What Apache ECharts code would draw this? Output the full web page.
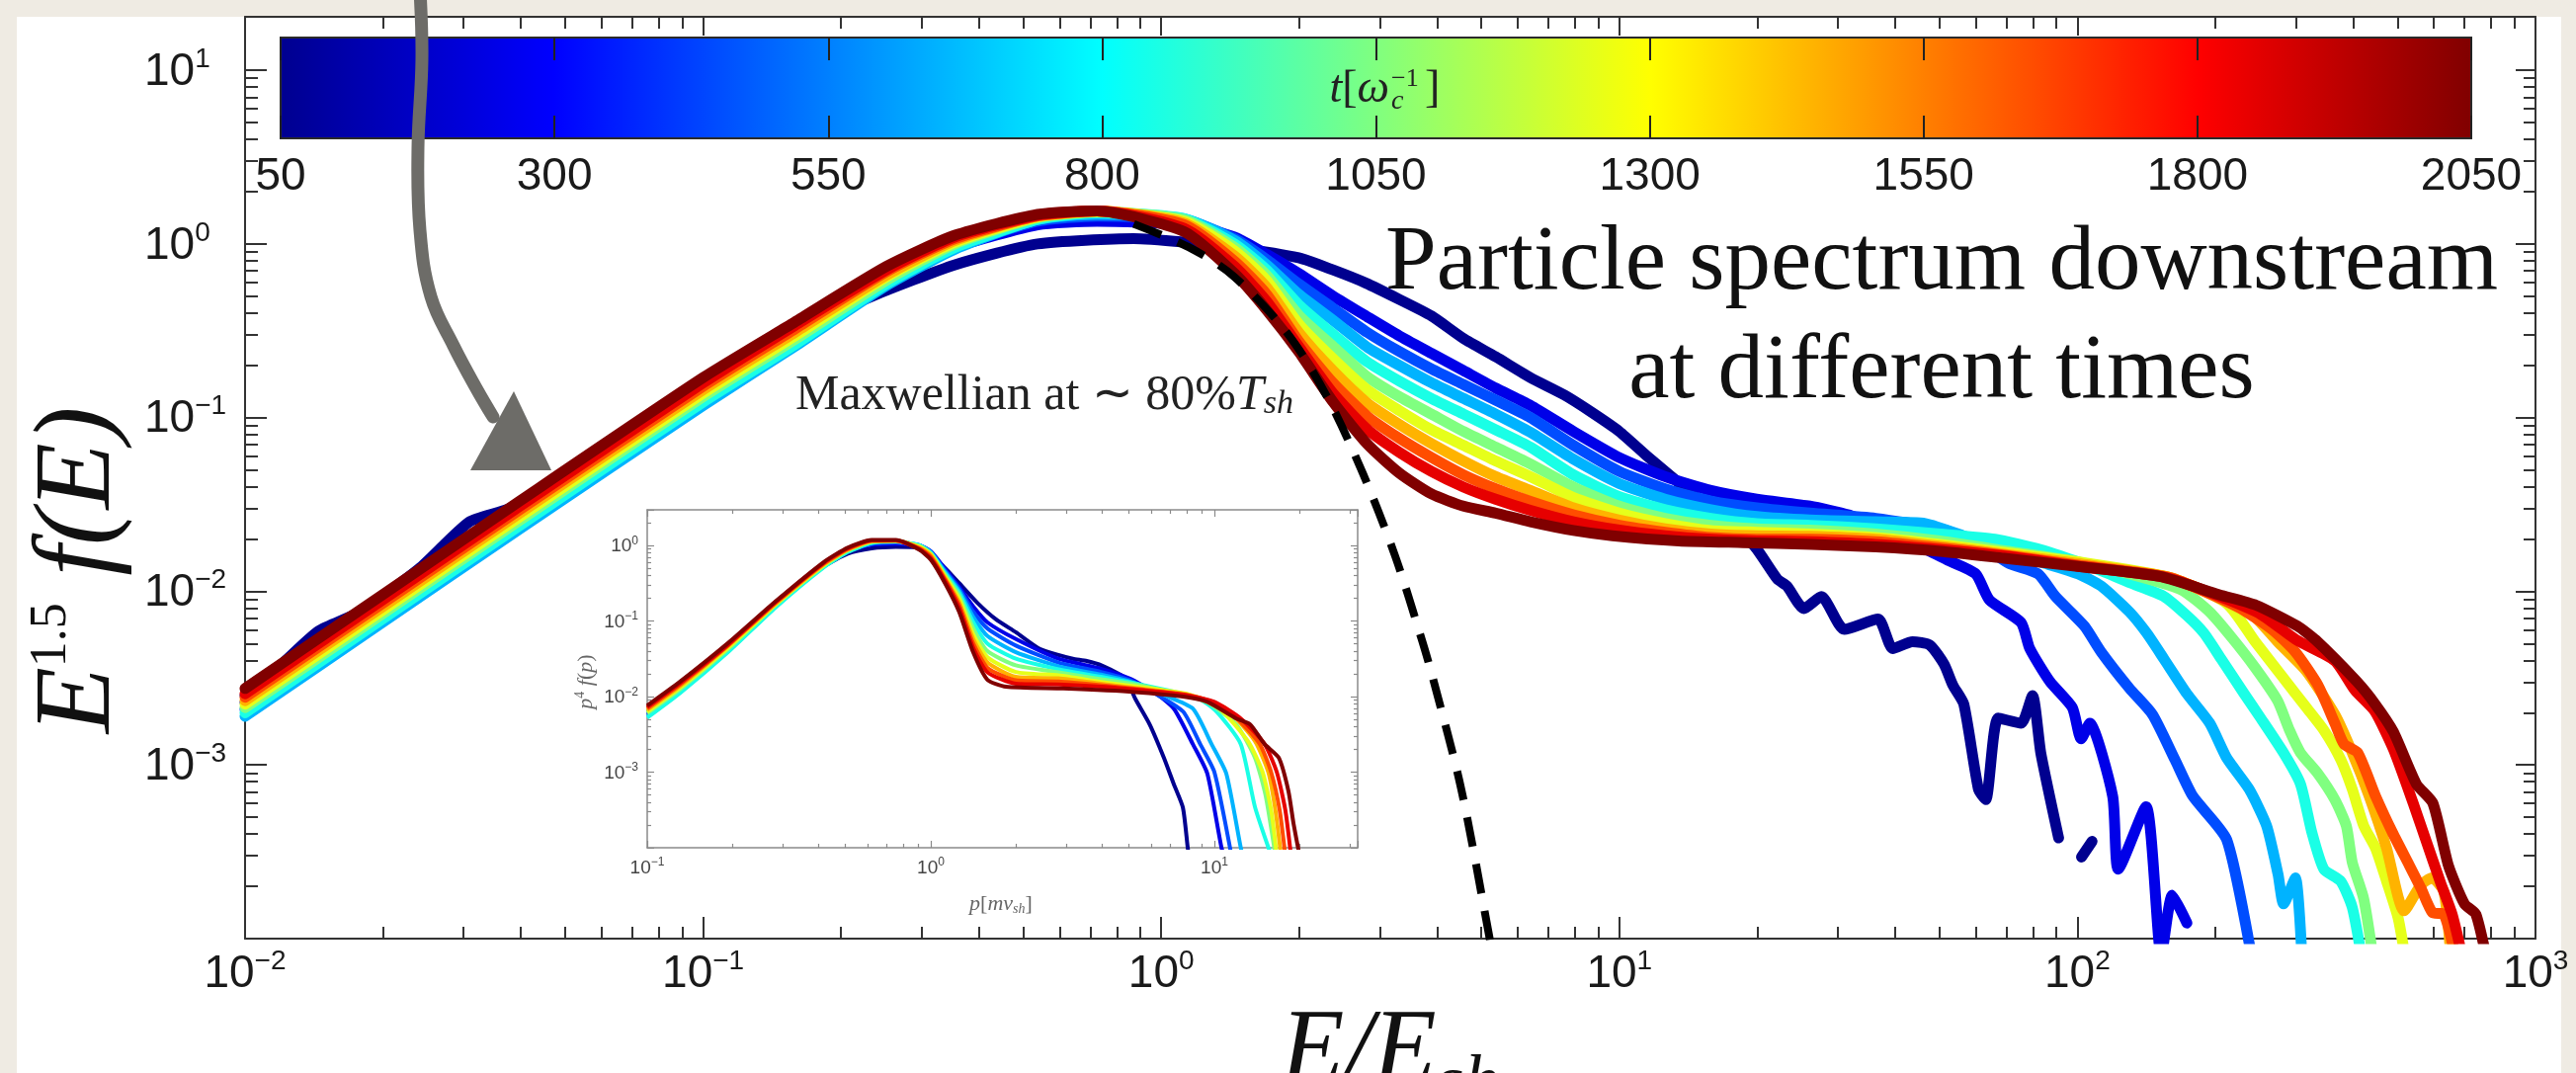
<!DOCTYPE html>
<html>
<head>
<meta charset="utf-8">
<script src="https://cdn.jsdelivr.net/npm/echarts@6/dist/echarts.min.js"></script>
<style>
html,body{margin:0;padding:0;background:#efebe3;width:2607px;height:1086px;overflow:hidden;}
#card{position:absolute;left:17px;top:17px;width:2575px;height:1069px;background:#ffffff;}
#chart{position:absolute;left:0;top:0;width:2607px;height:1086px;}
</style>
</head>
<body>
<div id="card"></div>
<div id="chart"></div>
<script>
// ---------------- DATA ----------------
// times of the snapshots, t [1/omega_c]
const times = [50, 250, 450, 650, 850, 1050, 1250, 1450, 1650, 1850, 2050];
// colour-bar tick labels
const cbarTicks = [50, 300, 550, 800, 1050, 1300, 1550, 1800, 2050];
// decades used for log ticks
const xDecades = [-2, -1, 0, 1, 2];
const yDecades = [-4, -3, -2, -1, 0];
const insetXDecades = [-1, 0, 1];
const insetYDecades = [-4, -3, -2, -1, 0];

// Main spectra: pairs [log10(E/Esh), log10(E^1.5 f(E))]
const spec_t50 = [[-2.00,-2.60],[-1.92,-2.42],[-1.84,-2.23],[-1.75,-2.12],[-1.62,-1.87],[-1.51,-1.60],[-1.42,-1.52],[-1.20,-1.13],[-1.00,-0.80],[-0.80,-0.50],[-0.63,-0.30],[-0.45,-0.12],[-0.27,0.00],[-0.06,0.03],[0.05,0.01],[0.16,-0.02],[0.30,-0.08],[0.375,-0.15],[0.446,-0.225],[0.52,-0.32],[0.59,-0.415],[0.66,-0.545],[0.73,-0.65],[0.806,-0.77],[0.88,-0.87],[0.94,-0.97],[1.00,-1.08],[1.06,-1.22],[1.15,-1.42],[1.24,-1.62],[1.295,-1.74],[1.345,-1.93],[1.366,-1.97],[1.403,-2.10],[1.441,-2.03],[1.491,-2.22],[1.565,-2.16],[1.597,-2.33],[1.64,-2.29],[1.678,-2.31],[1.709,-2.42],[1.728,-2.54],[1.752,-2.65],[1.784,-3.14],[1.80,-3.20],[1.827,-2.73],[1.877,-2.76],[1.902,-2.60],[1.92,-2.93],[1.959,-3.42],null,[2.009,-3.53],[2.032,-3.44]];
const spec_t250 = [[-2.00,-2.64],[-1.70,-2.10],[-1.40,-1.56],[-1.00,-0.85],[-0.80,-0.52],[-0.60,-0.20],[-0.45,-0.02],[-0.27,0.11],[-0.14,0.13],[0.05,0.11],[0.16,0.04],[0.23,-0.06],[0.30,-0.17],[0.375,-0.30],[0.45,-0.42],[0.52,-0.53],[0.59,-0.63],[0.66,-0.73],[0.73,-0.83],[0.806,-0.93],[0.90,-1.08],[1.00,-1.23],[1.10,-1.34],[1.20,-1.42],[1.30,-1.47],[1.416,-1.51],[1.50,-1.56],[1.565,-1.63],[1.64,-1.72],[1.716,-1.82],[1.778,-1.90],[1.808,-2.05],[1.877,-2.18],[1.896,-2.33],[1.94,-2.52],[1.989,-2.67],[2.008,-2.85],[2.027,-2.76],[2.077,-3.18],[2.089,-3.60],[2.15,-3.24],[2.183,-4.10],[2.207,-3.75],[2.239,-3.91]];
const spec_t450 = [[-2.00,-2.68],[-1.70,-2.14],[-1.40,-1.60],[-1.00,-0.89],[-0.80,-0.56],[-0.60,-0.22],[-0.45,-0.02],[-0.27,0.13],[-0.14,0.16],[0.05,0.14],[0.16,0.03],[0.23,-0.09],[0.30,-0.23],[0.375,-0.37],[0.45,-0.51],[0.52,-0.62],[0.59,-0.72],[0.66,-0.81],[0.73,-0.90],[0.806,-1.00],[0.90,-1.16],[1.00,-1.31],[1.10,-1.41],[1.20,-1.48],[1.30,-1.52],[1.416,-1.55],[1.56,-1.58],[1.70,-1.64],[1.78,-1.72],[1.851,-1.84],[1.914,-1.90],[1.952,-2.03],[2.015,-2.20],[2.052,-2.35],[2.114,-2.56],[2.164,-2.71],[2.213,-2.97],[2.252,-3.18],[2.326,-3.43],[2.38,-4.10]];
const spec_t650 = [[-2.00,-2.72],[-1.70,-2.18],[-1.40,-1.64],[-1.00,-0.93],[-0.80,-0.59],[-0.60,-0.24],[-0.45,-0.03],[-0.27,0.14],[-0.14,0.17],[0.05,0.145],[0.16,0.02],[0.23,-0.12],[0.30,-0.29],[0.375,-0.44],[0.45,-0.595],[0.52,-0.70],[0.59,-0.80],[0.66,-0.89],[0.73,-0.98],[0.806,-1.085],[0.90,-1.24],[1.00,-1.38],[1.10,-1.47],[1.20,-1.53],[1.30,-1.57],[1.416,-1.59],[1.56,-1.60],[1.668,-1.61],[1.75,-1.68],[1.85,-1.78],[1.93,-1.84],[2.002,-1.90],[2.052,-1.97],[2.114,-2.12],[2.151,-2.24],[2.189,-2.39],[2.239,-2.59],[2.289,-2.76],[2.326,-2.96],[2.375,-3.14],[2.413,-3.35],[2.438,-3.63],[2.45,-3.80],[2.476,-3.65],[2.49,-4.10]];
const spec_t850 = [[-2.00,-2.70],[-1.70,-2.16],[-1.40,-1.62],[-1.00,-0.91],[-0.80,-0.58],[-0.60,-0.23],[-0.45,-0.02],[-0.27,0.14],[-0.14,0.18],[0.05,0.145],[0.16,0.00],[0.23,-0.15],[0.30,-0.35],[0.375,-0.52],[0.45,-0.68],[0.52,-0.79],[0.59,-0.89],[0.66,-0.98],[0.73,-1.07],[0.806,-1.17],[0.90,-1.33],[1.00,-1.455],[1.10,-1.53],[1.20,-1.58],[1.30,-1.61],[1.416,-1.62],[1.56,-1.64],[1.70,-1.67],[1.82,-1.70],[1.92,-1.76],[2.00,-1.83],[2.06,-1.89],[2.114,-1.95],[2.189,-2.03],[2.239,-2.14],[2.276,-2.24],[2.314,-2.39],[2.364,-2.59],[2.40,-2.73],[2.45,-2.93],[2.487,-3.11],[2.512,-3.39],[2.538,-3.60],[2.575,-3.67],[2.60,-3.82],[2.62,-4.10]];
const spec_t1050 = [[-2.00,-2.67],[-1.70,-2.13],[-1.40,-1.59],[-1.00,-0.88],[-0.80,-0.55],[-0.60,-0.21],[-0.45,0.00],[-0.27,0.15],[-0.14,0.185],[0.05,0.14],[0.16,-0.02],[0.23,-0.18],[0.30,-0.41],[0.375,-0.59],[0.45,-0.765],[0.52,-0.88],[0.59,-0.98],[0.66,-1.08],[0.73,-1.17],[0.806,-1.267],[0.90,-1.40],[1.00,-1.51],[1.10,-1.58],[1.20,-1.62],[1.30,-1.64],[1.416,-1.648],[1.56,-1.67],[1.70,-1.71],[1.85,-1.77],[2.00,-1.83],[2.10,-1.89],[2.226,-1.99],[2.289,-2.12],[2.338,-2.27],[2.388,-2.44],[2.437,-2.63],[2.463,-2.80],[2.487,-2.93],[2.525,-3.05],[2.562,-3.20],[2.587,-3.35],[2.60,-3.56],[2.625,-3.77],[2.645,-4.10]];
const spec_t1250 = [[-2.00,-2.65],[-1.70,-2.11],[-1.40,-1.57],[-1.00,-0.86],[-0.80,-0.53],[-0.60,-0.19],[-0.45,0.01],[-0.27,0.155],[-0.14,0.185],[0.05,0.13],[0.16,-0.04],[0.23,-0.21],[0.30,-0.46],[0.375,-0.66],[0.45,-0.84],[0.52,-0.96],[0.59,-1.07],[0.66,-1.16],[0.73,-1.25],[0.806,-1.34],[0.90,-1.46],[1.00,-1.55],[1.10,-1.61],[1.20,-1.65],[1.30,-1.66],[1.416,-1.67],[1.56,-1.69],[1.70,-1.73],[1.85,-1.78],[2.00,-1.83],[2.20,-1.92],[2.326,-2.07],[2.388,-2.29],[2.45,-2.50],[2.50,-2.67],[2.538,-2.80],[2.575,-2.97],[2.60,-3.14],[2.625,-3.35],[2.651,-3.48],[2.675,-3.67],[2.70,-3.88],[2.715,-4.10]];
const spec_t1450 = [[-2.00,-2.63],[-1.70,-2.09],[-1.40,-1.55],[-1.00,-0.84],[-0.80,-0.51],[-0.60,-0.18],[-0.45,0.02],[-0.27,0.16],[-0.14,0.19],[0.05,0.12],[0.16,-0.07],[0.23,-0.25],[0.30,-0.51],[0.375,-0.73],[0.45,-0.917],[0.52,-1.04],[0.59,-1.15],[0.66,-1.25],[0.73,-1.34],[0.806,-1.42],[0.90,-1.52],[1.00,-1.59],[1.10,-1.64],[1.20,-1.67],[1.30,-1.68],[1.416,-1.683],[1.56,-1.70],[1.70,-1.74],[1.85,-1.79],[2.00,-1.84],[2.20,-1.92],[2.375,-2.12],[2.437,-2.29],[2.50,-2.46],[2.562,-2.71],[2.60,-2.93],[2.637,-3.18],[2.675,-3.48],[2.713,-3.84],[2.75,-3.69],[2.774,-3.65],[2.80,-3.73],[2.815,-4.10]];
const spec_t1650 = [[-2.00,-2.61],[-1.70,-2.07],[-1.40,-1.53],[-1.00,-0.82],[-0.80,-0.49],[-0.60,-0.16],[-0.45,0.03],[-0.27,0.16],[-0.14,0.19],[0.05,0.11],[0.16,-0.10],[0.23,-0.29],[0.30,-0.56],[0.375,-0.80],[0.45,-0.993],[0.52,-1.12],[0.59,-1.23],[0.66,-1.33],[0.73,-1.41],[0.806,-1.483],[0.90,-1.56],[1.00,-1.62],[1.10,-1.66],[1.20,-1.69],[1.30,-1.70],[1.416,-1.70],[1.56,-1.715],[1.70,-1.75],[1.85,-1.795],[2.00,-1.85],[2.20,-1.92],[2.35,-2.09],[2.425,-2.22],[2.476,-2.35],[2.525,-2.54],[2.562,-2.76],[2.582,-2.88],[2.612,-2.93],[2.651,-3.18],[2.688,-3.39],[2.725,-3.58],[2.75,-3.71],[2.775,-3.85],[2.80,-3.86],[2.825,-4.10]];
const spec_t1850 = [[-2.00,-2.59],[-1.70,-2.05],[-1.40,-1.51],[-1.00,-0.80],[-0.80,-0.47],[-0.60,-0.15],[-0.45,0.04],[-0.27,0.165],[-0.14,0.19],[0.05,0.09],[0.16,-0.13],[0.23,-0.33],[0.30,-0.59],[0.375,-0.86],[0.45,-1.068],[0.52,-1.20],[0.59,-1.31],[0.66,-1.40],[0.73,-1.47],[0.806,-1.534],[0.90,-1.60],[1.00,-1.648],[1.10,-1.68],[1.20,-1.70],[1.30,-1.71],[1.416,-1.715],[1.56,-1.73],[1.70,-1.76],[1.85,-1.80],[2.00,-1.855],[2.20,-1.925],[2.392,-2.12],[2.478,-2.28],[2.562,-2.40],[2.606,-2.57],[2.649,-2.69],[2.69,-2.91],[2.733,-3.22],[2.759,-3.42],[2.793,-3.68],[2.818,-3.86],[2.84,-4.10]];
const spec_t2050 = [[-2.00,-2.56],[-1.70,-2.02],[-1.40,-1.48],[-1.00,-0.77],[-0.80,-0.45],[-0.60,-0.13],[-0.45,0.05],[-0.27,0.17],[-0.14,0.19],[0.05,0.07],[0.16,-0.17],[0.23,-0.38],[0.30,-0.62],[0.375,-0.91],[0.45,-1.153],[0.52,-1.32],[0.59,-1.44],[0.66,-1.51],[0.73,-1.55],[0.806,-1.60],[0.90,-1.65],[0.985,-1.68],[1.13,-1.71],[1.27,-1.72],[1.42,-1.73],[1.56,-1.745],[1.70,-1.77],[1.84,-1.81],[2.01,-1.86],[2.18,-1.915],[2.31,-2.02],[2.39,-2.08],[2.48,-2.20],[2.52,-2.28],[2.61,-2.52],[2.65,-2.65],[2.69,-2.81],[2.74,-3.11],[2.776,-3.22],[2.81,-3.58],[2.845,-3.80],[2.87,-3.86],[2.90,-4.20]];
// Maxwellian at ~80% T_sh (dashed)
const maxwellian = [[-0.06,0.115],[0.066,-0.027],[0.159,-0.188],[0.274,-0.51],[0.36,-0.87],[0.44,-1.32],[0.511,-1.80],[0.569,-2.28],[0.593,-2.50],[0.655,-3.14],[0.717,-4.0],[0.73,-4.2]];

// Inset spectra: pairs [log10(p/mv_sh), log10(p^4 f(p))]
const ins_t50 = [[-1.0,-2.15],[-0.883,-1.84],[-0.714,-1.33],[-0.547,-0.78],[-0.377,-0.28],[-0.293,-0.11],[-0.209,-0.04],[-0.123,-0.02],[-0.04,-0.03],[0.045,-0.28],[0.10,-0.50],[0.164,-0.76],[0.23,-0.98],[0.30,-1.15],[0.384,-1.37],[0.45,-1.45],[0.501,-1.50],[0.55,-1.53],[0.603,-1.59],[0.687,-1.76],[0.721,-2.03],[0.772,-2.37],[0.822,-2.81],[0.857,-3.16],[0.889,-3.47],[0.906,-4.0],[0.91,-4.1]];
const ins_t250 = [[-1.0,-2.20],[-0.883,-1.88],[-0.714,-1.35],[-0.547,-0.78],[-0.377,-0.26],[-0.293,-0.07],[-0.209,0.01],[-0.123,0.02],[-0.04,0.0],[0.0,-0.08],[0.05,-0.31],[0.10,-0.55],[0.15,-0.81],[0.20,-1.02],[0.30,-1.24],[0.45,-1.50],[0.60,-1.632],[0.70,-1.76],[0.788,-1.94],[0.857,-2.16],[0.924,-2.63],[0.975,-3.02],[1.025,-4.0],[1.035,-4.1]];
const ins_t450 = [[-1.0,-2.24],[-0.883,-1.92],[-0.714,-1.38],[-0.547,-0.80],[-0.377,-0.27],[-0.293,-0.07],[-0.209,0.02],[-0.123,0.04],[-0.04,0.0],[0.0,-0.09],[0.05,-0.33],[0.10,-0.57],[0.15,-0.88],[0.20,-1.10],[0.30,-1.326],[0.45,-1.55],[0.60,-1.675],[0.70,-1.78],[0.80,-1.98],[0.89,-2.2],[0.95,-2.63],[1.0,-3.0],[1.06,-4.1]];
const ins_t650 = [[-1.0,-2.27],[-0.883,-1.94],[-0.714,-1.40],[-0.547,-0.81],[-0.377,-0.28],[-0.293,-0.08],[-0.209,0.03],[-0.123,0.05],[-0.04,0.0],[0.0,-0.09],[0.05,-0.35],[0.10,-0.60],[0.15,-0.95],[0.20,-1.20],[0.30,-1.414],[0.45,-1.60],[0.60,-1.71],[0.70,-1.80],[0.822,-1.98],[0.924,-2.16],[0.99,-2.63],[1.042,-3.02],[1.093,-4.0],[1.10,-4.1]];
const ins_t850 = [[-1.0,-2.28],[-0.883,-1.95],[-0.714,-1.41],[-0.547,-0.82],[-0.377,-0.29],[-0.293,-0.09],[-0.209,0.03],[-0.123,0.05],[-0.04,0.0],[0.0,-0.10],[0.05,-0.37],[0.10,-0.63],[0.15,-1.02],[0.20,-1.30],[0.30,-1.50],[0.45,-1.64],[0.60,-1.74],[0.75,-1.85],[0.941,-2.02],[1.008,-2.2],[1.093,-2.63],[1.143,-3.46],[1.20,-4.1]];
const ins_t1050 = [[-1.0,-2.22],[-0.883,-1.90],[-0.714,-1.37],[-0.547,-0.79],[-0.377,-0.27],[-0.293,-0.07],[-0.209,0.045],[-0.123,0.055],[-0.04,-0.01],[0.0,-0.11],[0.05,-0.39],[0.10,-0.67],[0.15,-1.10],[0.20,-1.40],[0.30,-1.588],[0.45,-1.68],[0.60,-1.77],[0.75,-1.86],[0.94,-2.03],[0.975,-2.07],[1.077,-2.37],[1.143,-2.81],[1.18,-3.3],[1.215,-4.1]];
const ins_t1250 = [[-1.0,-2.20],[-0.883,-1.88],[-0.714,-1.35],[-0.547,-0.78],[-0.377,-0.26],[-0.293,-0.06],[-0.209,0.05],[-0.123,0.06],[-0.04,-0.02],[0.0,-0.12],[0.05,-0.41],[0.10,-0.71],[0.15,-1.18],[0.20,-1.48],[0.30,-1.675],[0.45,-1.72],[0.60,-1.806],[0.75,-1.88],[0.90,-1.96],[0.96,-2.05],[1.02,-2.16],[1.12,-2.60],[1.17,-3.0],[1.20,-3.5],[1.22,-4.1]];
const ins_t1450 = [[-1.0,-2.18],[-0.883,-1.86],[-0.714,-1.33],[-0.547,-0.77],[-0.377,-0.25],[-0.293,-0.06],[-0.209,0.055],[-0.123,0.06],[-0.04,-0.03],[0.0,-0.13],[0.05,-0.43],[0.10,-0.75],[0.15,-1.24],[0.20,-1.55],[0.30,-1.74],[0.45,-1.76],[0.60,-1.83],[0.75,-1.90],[0.90,-1.97],[0.975,-2.05],[1.042,-2.16],[1.143,-2.59],[1.19,-3.0],[1.215,-3.5],[1.235,-4.1]];
const ins_t1650 = [[-1.0,-2.16],[-0.883,-1.84],[-0.714,-1.32],[-0.547,-0.76],[-0.377,-0.24],[-0.293,-0.05],[-0.209,0.06],[-0.123,0.065],[-0.04,-0.04],[0.0,-0.15],[0.05,-0.45],[0.10,-0.79],[0.15,-1.30],[0.20,-1.62],[0.30,-1.785],[0.45,-1.80],[0.60,-1.85],[0.75,-1.91],[0.90,-1.98],[1.0,-2.08],[1.08,-2.29],[1.16,-2.63],[1.20,-3.0],[1.23,-3.5],[1.25,-4.1]];
const ins_t1850 = [[-1.0,-2.14],[-0.883,-1.82],[-0.714,-1.31],[-0.547,-0.75],[-0.377,-0.23],[-0.293,-0.04],[-0.209,0.065],[-0.123,0.065],[-0.04,-0.05],[0.0,-0.17],[0.05,-0.47],[0.10,-0.83],[0.15,-1.36],[0.20,-1.68],[0.30,-1.83],[0.45,-1.84],[0.60,-1.87],[0.75,-1.92],[0.90,-1.98],[1.0,-2.07],[1.093,-2.29],[1.177,-2.63],[1.22,-3.0],[1.25,-3.5],[1.27,-4.1]];
const ins_t2050 = [[-1.0,-2.12],[-0.883,-1.80],[-0.714,-1.29],[-0.547,-0.74],[-0.377,-0.22],[-0.293,-0.03],[-0.209,0.07],[-0.123,0.07],[-0.04,-0.06],[0.0,-0.19],[0.05,-0.50],[0.10,-0.88],[0.15,-1.42],[0.20,-1.78],[0.265,-1.87],[0.467,-1.894],[0.72,-1.94],[0.89,-2.0],[0.975,-2.07],[1.077,-2.29],[1.126,-2.37],[1.177,-2.63],[1.227,-2.81],[1.261,-3.25],[1.279,-3.68],[1.30,-4.1]];

const mainSpectra = [spec_t50, spec_t250, spec_t450, spec_t650, spec_t850, spec_t1050, spec_t1250, spec_t1450, spec_t1650, spec_t1850, spec_t2050];
const insetSpectra = [ins_t50, ins_t250, ins_t450, ins_t650, ins_t850, ins_t1050, ins_t1250, ins_t1450, ins_t1650, ins_t1850, ins_t2050];

// ---------------- STYLE ----------------
const jetColors = ['#00008f', '#0000e8', '#004dff', '#00b3ff', '#1affe6', '#80ff80', '#e6ff1a', '#ffb300', '#ff4d00', '#e60000', '#800000'];
const jetStops = [
  { offset: 0, color: '#00008f' }, { offset: 0.125, color: '#0000ff' },
  { offset: 0.375, color: '#00ffff' }, { offset: 0.625, color: '#ffff00' },
  { offset: 0.875, color: '#ff0000' }, { offset: 1, color: '#800000' }
];
const AX = '#333333';
const INS = '#8a8a8a';

function toXY(pts) {
  return pts.map(p => p === null ? ['-', '-'] : [Math.pow(10, p[0]), Math.pow(10, p[1])]);
}
function minorVals(decs) {
  const out = [];
  decs.forEach(d => [2, 3, 4, 5, 6, 7, 8, 9].forEach(m => out.push(+(m * Math.pow(10, d)).toPrecision(6))));
  return out;
}
function supLabel(v, minExp, maxExp) {
  const l = Math.log10(v); const e = Math.round(l);
  if (Math.abs(l - e) > 1e-6 || e < minExp || e > maxExp) return '';
  return '{b|10}{s|' + (e < 0 ? '\u2212' + (-e) : e) + '}';
}
const mainRich = {
  b: { fontFamily: 'Liberation Sans', fontSize: 46, lineHeight: 50, color: '#1a1a1a', verticalAlign: 'bottom', padding: [22, 0, 0, 0] },
  s: { fontFamily: 'Liberation Sans', fontSize: 28, lineHeight: 30, color: '#1a1a1a', verticalAlign: 'top' }
};
const insRich = {
  b: { fontFamily: 'Liberation Sans', fontSize: 19, lineHeight: 21, color: '#444', verticalAlign: 'bottom', padding: [9, 0, 0, 0] },
  s: { fontFamily: 'Liberation Sans', fontSize: 12, lineHeight: 13, color: '#444', verticalAlign: 'top' }
};

const X_MIN = 0.01, X_MAX = 1000, Y_MIN = 1e-4, Y_MAX = 20.3;
const IX_MIN = 0.1, IX_MAX = 32, IY_MIN = 1e-4, IY_MAX = 2.95;

function lineAx(color, w) { return { show: true, onZero: false, lineStyle: { color: color, width: w } }; }
function tickAx(len, color, w, custom) {
  const t = { show: true, inside: true, length: len, lineStyle: { color: color, width: w } };
  if (custom) t.customValues = custom;
  return t;
}
const noLabel = { show: false };
const noSplit = { show: false };

const xAxes = [
  { gridIndex: 0, type: 'log', min: X_MIN, max: X_MAX, position: 'bottom', axisLine: lineAx(AX, 2), axisTick: tickAx(22, AX, 2),
    axisLabel: { show: true, margin: 9, formatter: v => supLabel(v, -2, 3), rich: mainRich }, splitLine: noSplit,
    name: '{i|E/E}{sub|sh}', nameLocation: 'middle', nameGap: 27,
    nameTextStyle: { rich: {
      i: { fontFamily: 'Liberation Serif', fontStyle: 'italic', fontSize: 105, lineHeight: 120, color: '#111', verticalAlign: 'top', padding: [0, 0, 15, 0] },
      sub: { fontFamily: 'Liberation Serif', fontStyle: 'italic', fontSize: 72, lineHeight: 72, color: '#111', verticalAlign: 'bottom' } } } },
  { gridIndex: 0, type: 'log', min: X_MIN, max: X_MAX, position: 'bottom', axisLine: { show: false }, axisTick: tickAx(12, AX, 2, minorVals(xDecades)), axisLabel: noLabel, splitLine: noSplit },
  { gridIndex: 0, type: 'log', min: X_MIN, max: X_MAX, position: 'top', axisLine: lineAx(AX, 2), axisTick: tickAx(19, AX, 2), axisLabel: noLabel, splitLine: noSplit },
  { gridIndex: 0, type: 'log', min: X_MIN, max: X_MAX, position: 'top', axisLine: { show: false }, axisTick: tickAx(12, AX, 2, minorVals(xDecades)), axisLabel: noLabel, splitLine: noSplit },
  { gridIndex: 1, type: 'value', min: cbarTicks[0], max: cbarTicks[cbarTicks.length - 1], interval: cbarTicks[1] - cbarTicks[0], position: 'bottom', z: 5,
    axisLine: { show: false }, axisTick: tickAx(23, '#222', 2),
    axisLabel: { show: true, margin: 16, fontFamily: 'Liberation Sans', fontSize: 46, lineHeight: 46, color: '#1a1a1a', formatter: v => String(v) }, splitLine: noSplit },
  { gridIndex: 1, type: 'value', min: cbarTicks[0], max: cbarTicks[cbarTicks.length - 1], interval: cbarTicks[1] - cbarTicks[0], position: 'top', z: 5,
    axisLine: { show: false }, axisTick: tickAx(23, '#222', 2), axisLabel: noLabel, splitLine: noSplit },
  { gridIndex: 2, type: 'log', min: IX_MIN, max: IX_MAX, position: 'bottom', axisLine: lineAx(INS, 1.5), axisTick: tickAx(7, INS, 1.2),
    axisLabel: { show: true, margin: 9, formatter: v => supLabel(v, -1, 1), rich: insRich }, splitLine: noSplit },
  { gridIndex: 2, type: 'log', min: IX_MIN, max: IX_MAX, position: 'bottom', axisLine: { show: false }, axisTick: tickAx(4, INS, 1.2, minorVals(insetXDecades)), axisLabel: noLabel, splitLine: noSplit },
  { gridIndex: 2, type: 'log', min: IX_MIN, max: IX_MAX, position: 'top', axisLine: lineAx(INS, 1.5), axisTick: tickAx(7, INS, 1.2), axisLabel: noLabel, splitLine: noSplit },
  { gridIndex: 2, type: 'log', min: IX_MIN, max: IX_MAX, position: 'top', axisLine: { show: false }, axisTick: tickAx(4, INS, 1.2, minorVals(insetXDecades)), axisLabel: noLabel, splitLine: noSplit }
];
const yAxes = [
  { gridIndex: 0, type: 'log', min: Y_MIN, max: Y_MAX, position: 'left', axisLine: lineAx(AX, 2), axisTick: tickAx(22, AX, 2),
    axisLabel: { show: true, margin: 102, align: 'left', formatter: v => supLabel(v, -3, 1), rich: mainRich }, splitLine: noSplit },
  { gridIndex: 0, type: 'log', min: Y_MIN, max: Y_MAX, position: 'left', axisLine: { show: false }, axisTick: tickAx(13, AX, 2, minorVals(yDecades)), axisLabel: noLabel, splitLine: noSplit },
  { gridIndex: 0, type: 'log', min: Y_MIN, max: Y_MAX, position: 'right', axisLine: lineAx(AX, 2), axisTick: tickAx(20, AX, 2), axisLabel: noLabel, splitLine: noSplit },
  { gridIndex: 0, type: 'log', min: Y_MIN, max: Y_MAX, position: 'right', axisLine: { show: false }, axisTick: tickAx(12, AX, 2, minorVals(yDecades)), axisLabel: noLabel, splitLine: noSplit },
  { gridIndex: 1, type: 'value', min: 0, max: 1, show: false },
  { gridIndex: 2, type: 'log', min: IY_MIN, max: IY_MAX, position: 'left', axisLine: lineAx(INS, 1.5), axisTick: tickAx(7, INS, 1.2),
    axisLabel: { show: true, margin: 9, formatter: v => supLabel(v, -3, 0), rich: insRich }, splitLine: noSplit },
  { gridIndex: 2, type: 'log', min: IY_MIN, max: IY_MAX, position: 'left', axisLine: { show: false }, axisTick: tickAx(4, INS, 1.2, minorVals(insetYDecades)), axisLabel: noLabel, splitLine: noSplit },
  { gridIndex: 2, type: 'log', min: IY_MIN, max: IY_MAX, position: 'right', axisLine: lineAx(INS, 1.5), axisTick: tickAx(7, INS, 1.2), axisLabel: noLabel, splitLine: noSplit },
  { gridIndex: 2, type: 'log', min: IY_MIN, max: IY_MAX, position: 'right', axisLine: { show: false }, axisTick: tickAx(4, INS, 1.2, minorVals(insetYDecades)), axisLabel: noLabel, splitLine: noSplit }
];

const series = [];
// colour bar (drawn through its own value axis)
series.push({
  type: 'custom', coordinateSystem: 'cartesian2d', xAxisIndex: 4, yAxisIndex: 4, z: 1, silent: true,
  data: [[cbarTicks[0], cbarTicks[cbarTicks.length - 1]]],
  encode: { x: [0, 1] },
  renderItem: function (params, api) {
    const p0 = api.coord([api.value(0), 1]);
    const p1 = api.coord([api.value(1), 0]);
    return {
      type: 'rect',
      shape: { x: p0[0], y: p0[1], width: p1[0] - p0[0], height: p1[1] - p0[1] },
      style: { fill: new echarts.graphic.LinearGradient(0, 0, 1, 0, jetStops), stroke: '#2a2a2a', lineWidth: 2 }
    };
  }
});
mainSpectra.forEach((pts, k) => {
  series.push({
    name: 't=' + times[k], type: 'line', xAxisIndex: 0, yAxisIndex: 0, data: toXY(pts),
    showSymbol: false, symbol: 'none', smooth: 0.2, connectNulls: false, clip: true, silent: true, z: 2,
    lineStyle: { color: jetColors[k], width: 11, cap: 'round', join: 'round' }
  });
});
series.push({
  name: 'Maxwellian', type: 'line', xAxisIndex: 0, yAxisIndex: 0, data: toXY(maxwellian),
  showSymbol: false, symbol: 'none', smooth: 0.3, clip: true, silent: true, z: 3,
  lineStyle: { color: '#000', width: 8, type: [30, 18], cap: 'butt' }
});
insetSpectra.forEach((pts, k) => {
  series.push({
    name: 'inset t=' + times[k], type: 'line', xAxisIndex: 6, yAxisIndex: 5, data: toXY(pts),
    showSymbol: false, symbol: 'none', smooth: 0.2, clip: true, silent: true, z: 2,
    lineStyle: { color: jetColors[k], width: 4, join: 'round' }
  });
});

const graphic = [
  { type: 'polyline', z: 100, silent: true, shape: { points: [[425, -10], [427, 60], [423, 150], [425, 233], [436, 300], [459, 350], [482, 393], [499, 422]], smooth: 0.4 },
    style: { stroke: '#6d6c68', lineWidth: 13, fill: null, lineCap: 'round', lineJoin: 'round' } },
  { type: 'polygon', z: 100, silent: true, shape: { points: [[520, 396], [476, 476], [558, 476]] }, style: { fill: '#6d6c68' } },
  { type: 'text', z: 50, x: 1965, y: 268, style: { text: 'Particle spectrum downstream', fontFamily: 'Liberation Serif', fontSize: 93, fill: '#111', align: 'center', verticalAlign: 'middle' } },
  { type: 'text', z: 50, x: 1965, y: 378, style: { text: 'at different times', fontFamily: 'Liberation Serif', fontSize: 93, fill: '#111', align: 'center', verticalAlign: 'middle' } },
  { type: 'text', z: 50, x: 1057, y: 398, style: { text: '{r|Maxwellian at \u223C 80%}{i|T}{sub|sh}', align: 'center', verticalAlign: 'middle',
      rich: { r: { fontFamily: 'Liberation Serif', fontSize: 50, lineHeight: 56, fill: '#222', verticalAlign: 'bottom' },
              i: { fontFamily: 'Liberation Serif', fontStyle: 'italic', fontSize: 50, lineHeight: 56, fill: '#222', verticalAlign: 'bottom' },
              sub: { fontFamily: 'Liberation Serif', fontStyle: 'italic', fontSize: 34, lineHeight: 34, fill: '#222', verticalAlign: 'bottom' } } } },
  { type: 'text', z: 50, x: 81, y: 577, rotation: Math.PI / 2, style: { text: '{i|E}{s|1.5}{i| f(E)}', align: 'center', verticalAlign: 'middle',
      rich: { i: { fontFamily: 'Liberation Serif', fontStyle: 'italic', fontSize: 110, lineHeight: 110, fill: '#111', verticalAlign: 'bottom' },
              s: { fontFamily: 'Liberation Serif', fontSize: 52, lineHeight: 52, fill: '#111', verticalAlign: 'top' } } } },
  // colour-bar title t[omega_c^-1] with stacked sub/superscript
  { type: 'text', z: 50, x: 1406, y: 91, style: { text: '{i|t}{r|[}{i|\u03C9}', align: 'right', verticalAlign: 'middle',
      rich: { i: { fontFamily: 'Liberation Serif', fontStyle: 'italic', fontSize: 46, lineHeight: 50, fill: '#222' },
              r: { fontFamily: 'Liberation Serif', fontSize: 46, lineHeight: 50, fill: '#222' } } } },
  { type: 'text', z: 50, x: 1408, y: 80, style: { text: '\u22121', fontFamily: 'Liberation Serif', fontSize: 26, fill: '#222', align: 'left', verticalAlign: 'middle' } },
  { type: 'text', z: 50, x: 1408, y: 103, style: { text: 'c', fontFamily: 'Liberation Serif', fontStyle: 'italic', fontSize: 28, fill: '#222', align: 'left', verticalAlign: 'middle' } },
  { type: 'text', z: 50, x: 1442, y: 91, style: { text: ']', fontFamily: 'Liberation Serif', fontSize: 46, fill: '#222', align: 'left', verticalAlign: 'middle' } },
  { type: 'text', z: 50, x: 1013, y: 915, style: { text: '{i|p}{r|[}{i|mv}{sub|sh}{r|]}', align: 'center', verticalAlign: 'middle',
      rich: { i: { fontFamily: 'Liberation Serif', fontStyle: 'italic', fontSize: 22, lineHeight: 24, fill: '#666', verticalAlign: 'middle' },
              r: { fontFamily: 'Liberation Serif', fontSize: 22, lineHeight: 24, fill: '#666', verticalAlign: 'middle' },
              sub: { fontFamily: 'Liberation Serif', fontStyle: 'italic', fontSize: 14, lineHeight: 14, fill: '#666', verticalAlign: 'bottom' } } } },
  { type: 'text', z: 50, x: 592, y: 690, rotation: Math.PI / 2, style: { text: '{i|p}{sup|4}{i| f}{r|(}{i|p}{r|)}', align: 'center', verticalAlign: 'middle',
      rich: { i: { fontFamily: 'Liberation Serif', fontStyle: 'italic', fontSize: 22, lineHeight: 24, fill: '#666', verticalAlign: 'bottom' },
              r: { fontFamily: 'Liberation Serif', fontSize: 22, lineHeight: 24, fill: '#666', verticalAlign: 'bottom' },
              sup: { fontFamily: 'Liberation Serif', fontSize: 14, lineHeight: 14, fill: '#666', verticalAlign: 'top' } } } }
];

const chart = echarts.init(document.getElementById('chart'), null, { renderer: 'canvas', width: 2607, height: 1086 });
chart.setOption({
  backgroundColor: 'transparent',
  animation: false,
  grid: [
    { left: 248, top: 17, width: 2318, height: 933, containLabel: false, outerBoundsMode: 'none' },
    { left: 284, top: 38, width: 2217, height: 102, containLabel: false, outerBoundsMode: 'none' },
    { left: 655, top: 516, width: 719, height: 342, containLabel: false, outerBoundsMode: 'none' }
  ],
  xAxis: xAxes,
  yAxis: yAxes,
  series: series,
  graphic: graphic
});
</script>
</body>
</html>
